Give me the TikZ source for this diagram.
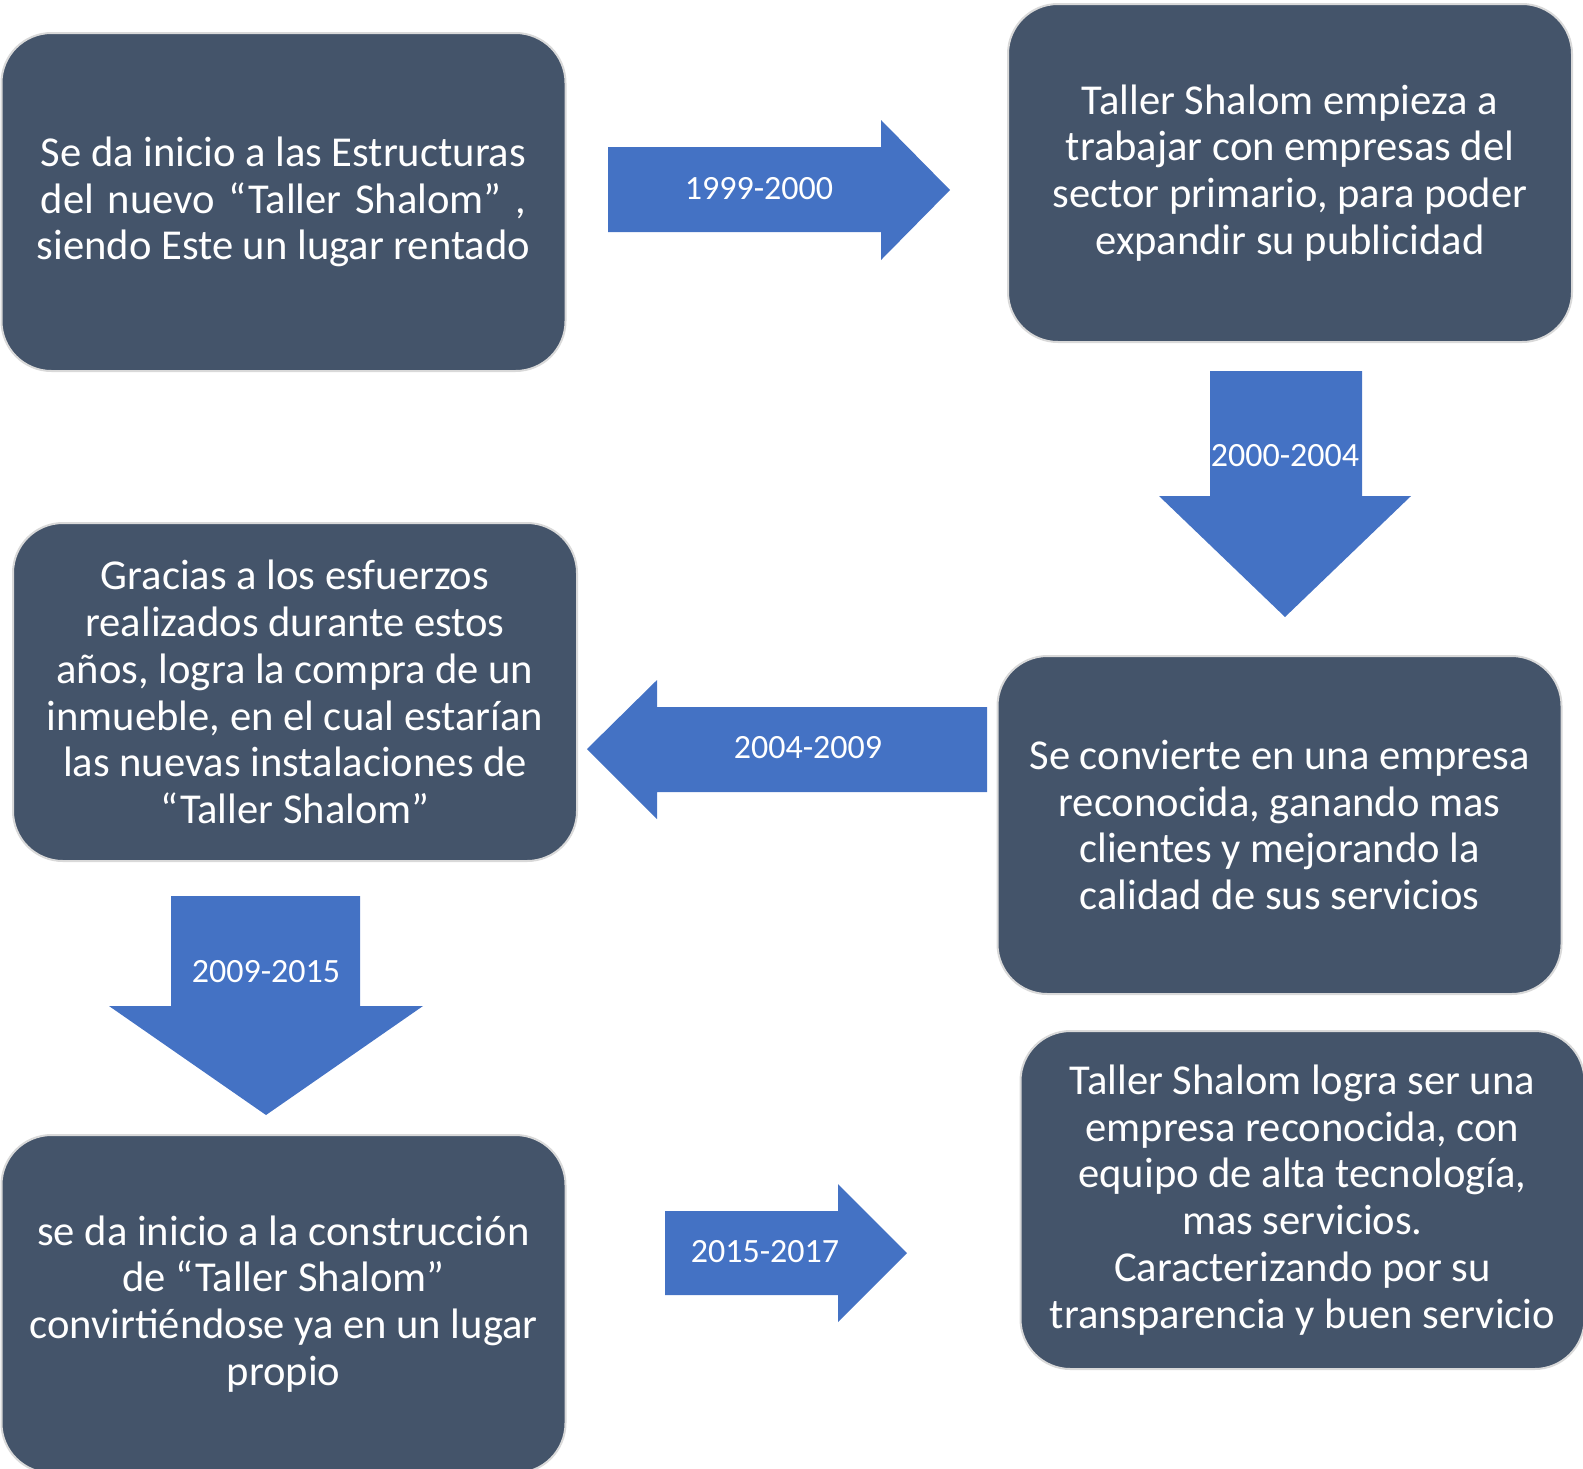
\documentclass[tikz,border=0pt]{standalone}
\usepackage{fontspec}
\setmainfont{Carlito}
\usepackage{tikz}

\definecolor{cajagris}{HTML}{44546A}
\definecolor{flechaazul}{HTML}{4472C4}
\definecolor{bordegris}{HTML}{D9D9D9}
\newlength{\anchoLinea}

\begin{document}
\begin{tikzpicture}[
    x=0.5pt, y=-0.5pt,
    caja/.style={
        rectangle, draw=bordegris, line width=1pt, fill=cajagris,
        rounded corners=25pt,
        minimum width=282pt, minimum height=169pt,
        align=center, text=white, font=\fontsize{21.3}{23.4}\selectfont
    },
    flecha/.style={fill=flechaazul},
    periodo/.style={text=white, inner sep=0pt, font=\fontsize{17}{20}\selectfont}
]
\useasboundingbox (0,0) rectangle (1583,1468);

% Row 1: inicio y primeras empresas
\node[caja] (inicio) at (283.5,202) {Se da inicio a las Estructuras\\
    \settowidth{\anchoLinea}{Se da inicio a las Estructuras}%
    \makebox[\anchoLinea][s]{del nuevo “Taller Shalom” ,}\\
    siendo Este un lugar rentado};
\node[caja] (empresas) at (1290,173) {Taller Shalom empieza a\\trabajar con empresas del\\sector primario, para poder\\expandir su publicidad};

% Row 2: compra y reconocimiento
\node[caja] (compra) at (295,692) {Gracias a los esfuerzos\\realizados durante estos\\años, logra la compra de un\\inmueble, en el cual estarían\\las nuevas instalaciones de\\“Taller Shalom”};
\node[caja] (reconocida) at (1279.5,825) {Se convierte en una empresa\\reconocida, ganando mas\\clientes y mejorando la\\calidad de sus servicios};

% Row 3: construccion y tecnologia
\node[caja] (construccion) at (283.5,1304) {se da inicio a la construcción\\de “Taller Shalom”\\convirtiéndose ya en un lugar\\propio};
\node[caja] (tecnologia) at (1302.5,1200) {Taller Shalom logra ser una\\empresa reconocida, con\\equipo de alta tecnología,\\mas servicios.\\Caracterizando por su\\transparencia y buen servicio};

% Flechas de periodo
\fill[flecha] (608,147) -- (881,147) -- (881,120) -- (950,190) -- (881,260) -- (881,232) -- (608,232) -- cycle;
\fill[flecha] (1210,371) -- (1362,371) -- (1362,496) -- (1411,496) -- (1285,617) -- (1159,496) -- (1210,496) -- cycle;
\fill[flecha] (987,707) -- (657,707) -- (657,680) -- (587,749) -- (657,819) -- (657,792) -- (987,792) -- cycle;
\fill[flecha] (171,896) -- (360,896) -- (360,1006) -- (423,1006) -- (266,1115) -- (109,1006) -- (171,1006) -- cycle;
\fill[flecha] (665,1211) -- (838,1211) -- (838,1184) -- (907,1253) -- (838,1322) -- (838,1295) -- (665,1295) -- cycle;

% Etiquetas
\node[periodo] (p1) at (759,189) {1999-2000};
\node[periodo] (p2) at (1285,456) {2000-2004};
\node[periodo] (p3) at (808,748) {2004-2009};
\node[periodo] (p4) at (266,972) {2009-2015};
\node[periodo] (p5) at (765,1252) {2015-2017};

\end{tikzpicture}
\end{document}
